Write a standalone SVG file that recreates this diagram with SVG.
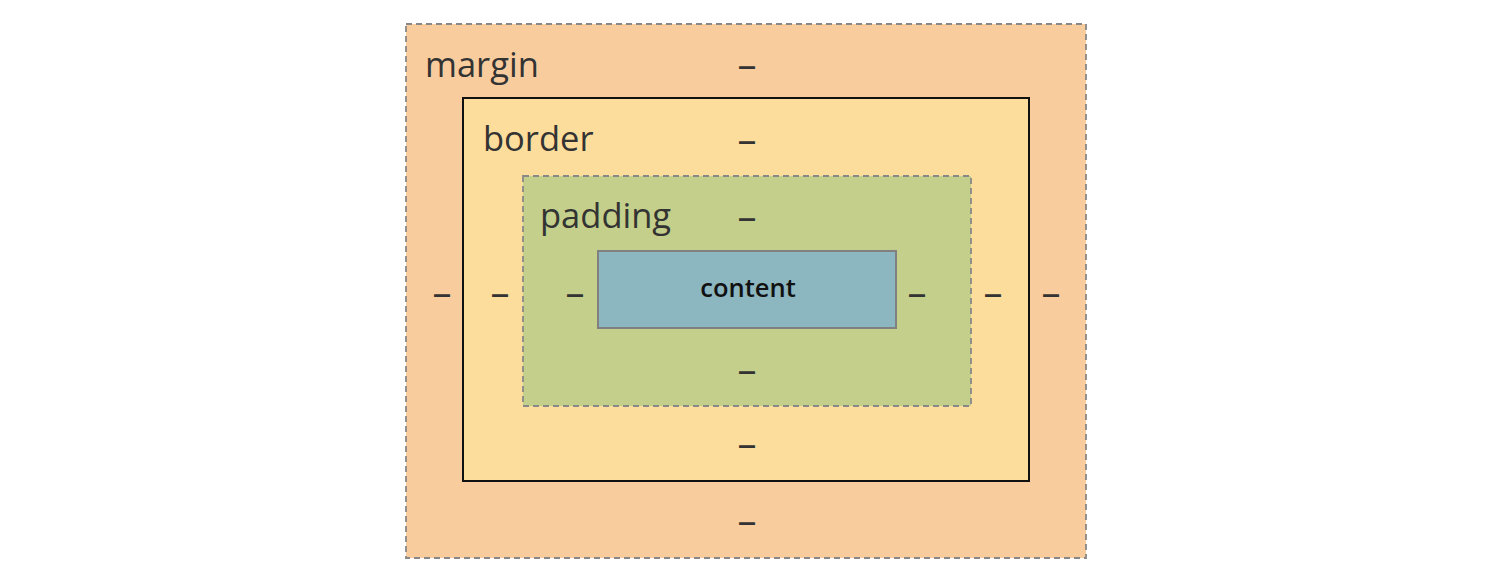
<svg xmlns="http://www.w3.org/2000/svg" width="1500" height="580" viewBox="0 0 1500 580">
<style>
.lbl{font-family:"Open Sans","Noto Sans",sans-serif;font-size:34.5px;fill:#333333}
.d{font-family:"Open Sans","Noto Sans",sans-serif;font-size:38px;fill:#333333;text-anchor:middle}
.c{font-family:"Open Sans","Noto Sans",sans-serif;font-size:25.5px;font-weight:600;fill:#111111;text-anchor:middle}
.dash{stroke:#888888;stroke-width:1.8;stroke-dasharray:6,4}
</style>
<rect width="1500" height="580" fill="#ffffff"/>
<g id="margin">
<rect class="dash" x="406" y="24" width="680" height="534" fill="#f9cc9d"/>
<text class="lbl" x="425" y="77">margin</text>
<text class="d" x="747" y="78">–</text>
<text class="d" x="747" y="534">–</text>
<text class="d" x="442" y="306">–</text>
<text class="d" x="1051" y="306">–</text>
</g>
<g id="border">
<rect x="463" y="98" width="566" height="383" fill="#fddd9b" stroke="#111111" stroke-width="2"/>
<text class="lbl" x="483" y="151">border</text>
<text class="d" x="747" y="153">–</text>
<text class="d" x="747" y="457">–</text>
<text class="d" x="500" y="306">–</text>
<text class="d" x="993" y="306">–</text>
</g>
<g id="padding">
<rect class="dash" x="523" y="176" width="448" height="230" fill="#c3cf8a"/>
<text class="lbl" x="540" y="228">padding</text>
<text class="d" x="747" y="230">–</text>
<text class="d" x="747" y="383">–</text>
<text class="d" x="575" y="306">–</text>
<text class="d" x="917" y="306">–</text>
</g>
<g id="content">
<rect x="598" y="251" width="298" height="77" fill="#8cb6c0" stroke="#808080" stroke-width="2"/>
<text class="c" x="748" y="297">content</text>
</g>
<g id="connectors"></g>
</svg>
